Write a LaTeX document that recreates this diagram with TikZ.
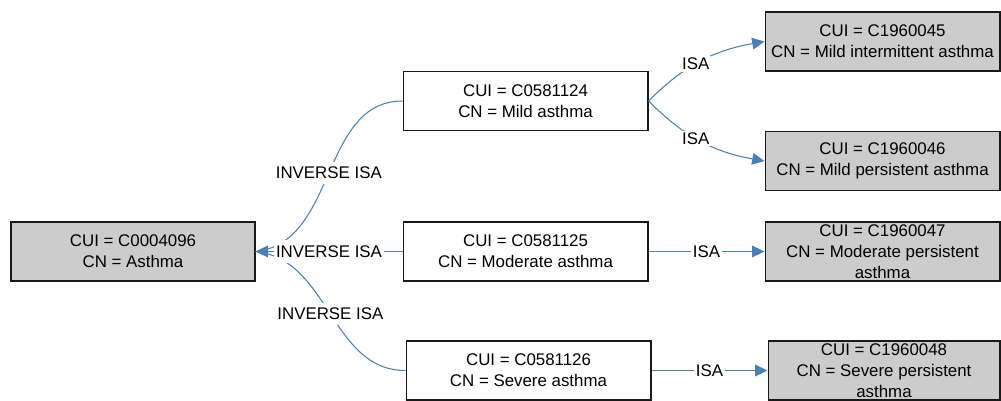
\documentclass[tikz,border=0pt]{standalone}
\usepackage{fontspec}
\setmainfont{Liberation Sans}
\usetikzlibrary{arrows.meta}
\definecolor{linkblue}{HTML}{4A7EBB}
\definecolor{boxgray}{HTML}{CCCCCC}
\begin{document}
\begin{tikzpicture}[x=0.02cm, y=0.02cm, font=\fontsize{9.6}{11.9}\selectfont,
    concept/.style={draw=black!90, line width=0.6pt, align=center, inner sep=0pt, minimum height=1.18cm},
    parent/.style={concept, fill=white, minimum width=4.9cm},
    leaf/.style={concept, fill=boxgray, minimum width=4.7cm},
    root/.style={concept, fill=boxgray, minimum width=4.88cm},
    link/.style={draw=linkblue, line width=0.6pt},
    tip/.style={-{Triangle[length=7pt,width=6.6pt]}},
    rel/.style={fill=white, inner xsep=1pt, inner ysep=3pt, text=black}]
    \useasboundingbox (0,0) rectangle (1001,400);
    % concepts
    \node[root] (asthma) at (133,148.5) {CUI = C0004096\\CN = Asthma};
    \node[parent] (mild) at (525.5,299) {CUI = C0581124\\CN = Mild asthma};
    \node[parent] (moderate) at (525.5,148.5) {CUI = C0581125\\CN = Moderate asthma};
    \node[parent] (severe) at (528.5,29.5) {CUI = C0581126\\CN = Severe asthma};
    \node[leaf] (c45) at (882.5,358.5) {CUI = C1960045\\CN = Mild intermittent asthma};
    \node[leaf] (c46) at (882.5,239) {CUI = C1960046\\CN = Mild persistent asthma};
    \node[leaf] (c47) at (882.5,148.5) {CUI = C1960047\\CN = Moderate persistent\\asthma};
    \node[leaf, minimum width=4.64cm] (c48) at (884,29.5) {CUI = C1960048\\CN = Severe persistent\\asthma};
    % ISA links
    \draw[link, tip] (mild.east) to[out=45, in=190] node[rel, inner ysep=1pt, pos=0.45]{ISA} (c45.west);
    \draw[link, tip] (mild.east) to[out=-45, in=170] node[rel, inner ysep=1pt, pos=0.45]{ISA} (c46.west);
    \foreach \a/\b in {moderate/c47, severe/c48}{
        \draw[link, tip] (\a) -- node[rel]{ISA} (\b);
    }
    % inverse links
    \draw[link] (mild.west) to[out=180, in=6] node[rel]{INVERSE ISA} (asthma.east);
    \draw[link] (severe.west) to[out=180, in=-6] node[rel]{INVERSE ISA} (asthma.east);
    \draw[link, tip] (moderate) -- node[rel]{INVERSE ISA} (asthma);
\end{tikzpicture}
\end{document}
